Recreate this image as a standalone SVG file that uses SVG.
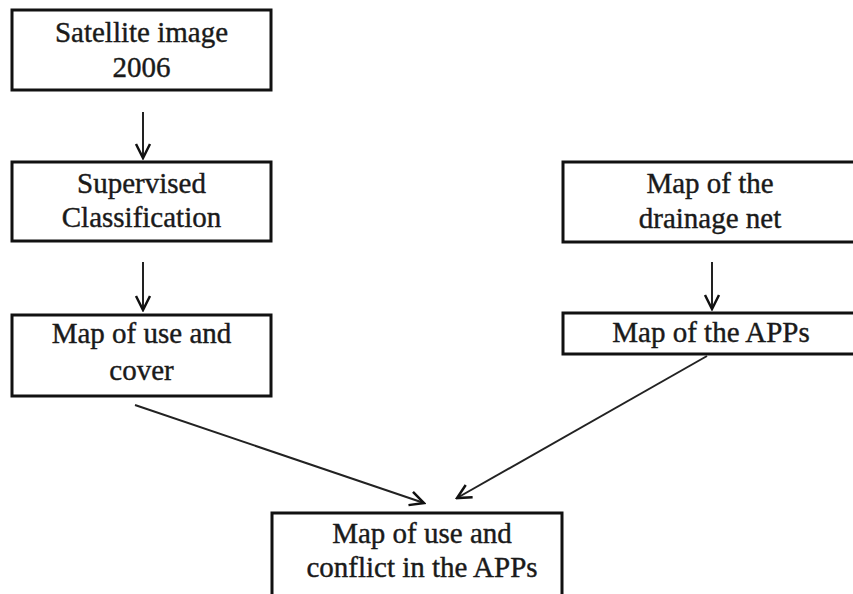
<svg xmlns="http://www.w3.org/2000/svg" width="853" height="594" viewBox="0 0 853 594">
<style>
.box{fill:#fff;stroke:#111;stroke-width:3}
.t{font-family:"Liberation Serif","DejaVu Serif",serif;font-size:29px;fill:#1a1a1a;text-anchor:middle;stroke:#1a1a1a;stroke-width:0.4}
.c{stroke:#222;stroke-width:2;fill:none}
</style>
<defs>
<marker id="ah" viewBox="0 0 20 20" refX="18" refY="10" markerWidth="20" markerHeight="20" markerUnits="userSpaceOnUse" orient="auto">
<path d="M4,3 L18,10 L4,17" fill="none" stroke="#111" stroke-width="2.5"/>
</marker>
</defs>
<rect width="853" height="594" fill="#fff"/>
<g id="connectors">
<line class="c" x1="143" y1="112" x2="143" y2="158" marker-end="url(#ah)"/>
<line class="c" x1="143" y1="262" x2="143" y2="310" marker-end="url(#ah)"/>
<line class="c" x1="712" y1="262" x2="712" y2="309" marker-end="url(#ah)"/>
<line class="c" x1="135" y1="405" x2="424" y2="503" marker-end="url(#ah)"/>
<line class="c" x1="707" y1="356" x2="457" y2="498" marker-end="url(#ah)"/>
</g>
<g id="n1">
<rect class="box" x="12" y="10" width="259" height="80"/>
<text class="t" x="141.5" y="42">Satellite image</text>
<text class="t" x="141.5" y="77">2006</text>
</g>
<g id="n2">
<rect class="box" x="12" y="162" width="259" height="79"/>
<text class="t" x="141.5" y="193">Supervised</text>
<text class="t" x="141.5" y="227">Classification</text>
</g>
<g id="n3">
<rect class="box" x="12" y="315" width="259" height="81"/>
<text class="t" x="141.5" y="343">Map of use and</text>
<text class="t" x="141.5" y="380">cover</text>
</g>
<g id="n4">
<rect class="box" x="563" y="162" width="296" height="80"/>
<text class="t" x="710" y="193">Map of the</text>
<text class="t" x="710" y="228">drainage net</text>
</g>
<g id="n5">
<rect class="box" x="563" y="313" width="296" height="41"/>
<text class="t" x="711" y="342">Map of the APPs</text>
</g>
<g id="n6">
<rect class="box" x="272" y="513" width="290" height="84"/>
<text class="t" x="422" y="543">Map of use and</text>
<text class="t" x="422" y="577">conflict in the APPs</text>
</g>
</svg>
